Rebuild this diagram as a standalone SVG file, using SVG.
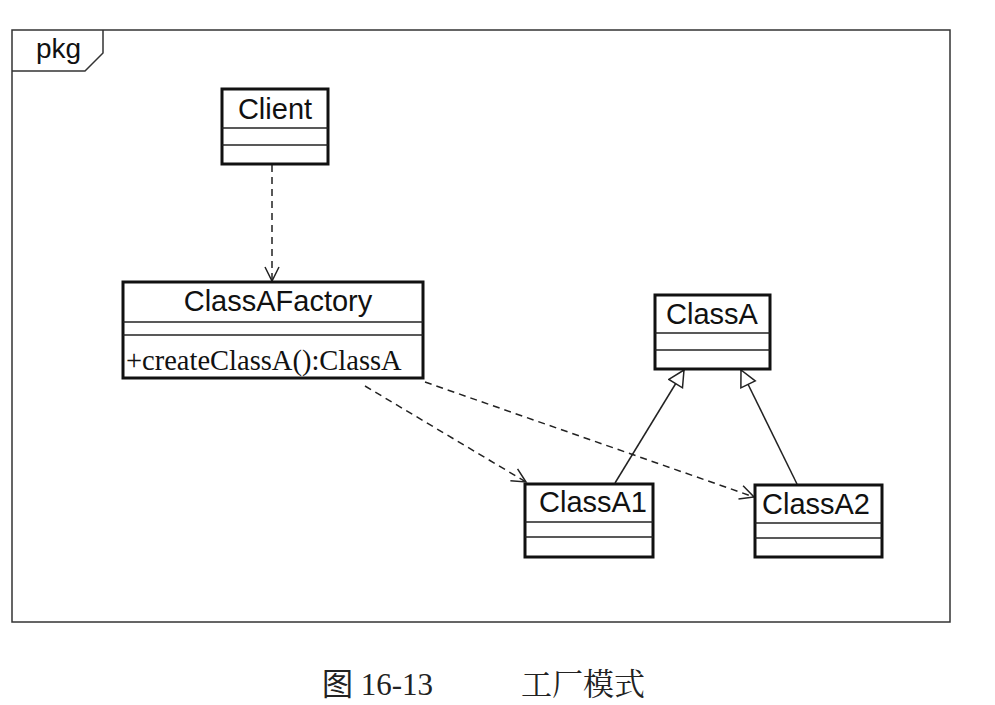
<svg xmlns="http://www.w3.org/2000/svg" width="995" height="705" viewBox="0 0 995 705">
<style>
.box{fill:#fff;stroke:#111;stroke-width:3}
.div{stroke:#222;stroke-width:1.5}
.t{font-family:"Liberation Sans",Arial,sans-serif;font-size:29px;fill:#111}
.s{font-family:"Liberation Serif","Times New Roman",serif;font-size:28.5px;fill:#111}
.dash{fill:none;stroke:#222;stroke-width:1.5;stroke-dasharray:7,5}
.solid{fill:none;stroke:#222;stroke-width:1.5}
.cap{font-family:"Liberation Serif","Noto Sans CJK SC",serif;font-size:31px;fill:#222}
.capc{font-family:"Noto Serif CJK SC","Noto Sans CJK SC",serif;font-size:31px;fill:#222}
</style>
<defs>
<marker id="open" markerWidth="20" markerHeight="20" refX="16" refY="8" orient="auto" markerUnits="userSpaceOnUse">
<path d="M2,1 L16,8 L2,15" fill="none" stroke="#222" stroke-width="1.5"/>
</marker>
<marker id="tri" markerWidth="24" markerHeight="24" refX="18" refY="9" orient="auto" markerUnits="userSpaceOnUse">
<path d="M2,1 L18,9 L2,17 Z" fill="#fff" stroke="#222" stroke-width="1.5"/>
</marker>
</defs>
<rect width="995" height="705" fill="#fff"/>
<g id="frame">
<rect x="12" y="30" width="938" height="592" fill="none" stroke="#333" stroke-width="1.5"/>
<path d="M12,71 L85,71 L103,53 L103,30" fill="none" stroke="#333" stroke-width="1.5"/>
<text x="36" y="58" class="t" style="font-size:28px">pkg</text>
</g>
<g id="connectors">
<line x1="272" y1="165" x2="272" y2="281" class="dash" marker-end="url(#open)"/>
<line x1="365" y1="386" x2="526" y2="482" class="dash" marker-end="url(#open)"/>
<line x1="425" y1="382" x2="754" y2="497" class="dash" marker-end="url(#open)"/>
<line x1="615" y1="483" x2="684" y2="370" class="solid" marker-end="url(#tri)"/>
<line x1="797" y1="484" x2="741" y2="370" class="solid" marker-end="url(#tri)"/>
</g>
<g id="Client">
<rect x="222" y="89" width="106" height="75" class="box"/>
<line x1="222" y1="128" x2="328" y2="128" class="div"/>
<line x1="222" y1="145" x2="328" y2="145" class="div"/>
<text x="275" y="119" class="t" text-anchor="middle">Client</text>
</g>
<g id="ClassAFactory">
<rect x="123" y="282" width="300" height="96" class="box"/>
<line x1="123" y1="322" x2="423" y2="322" class="div"/>
<line x1="123" y1="335" x2="423" y2="335" class="div"/>
<text x="278" y="311" class="t" text-anchor="middle">ClassAFactory</text>
<text x="126" y="370" class="s">+createClassA():ClassA</text>
</g>
<g id="ClassA">
<rect x="655" y="295" width="115" height="74" class="box"/>
<line x1="655" y1="333" x2="770" y2="333" class="div"/>
<line x1="655" y1="350" x2="770" y2="350" class="div"/>
<text x="712" y="324" class="t" text-anchor="middle">ClassA</text>
</g>
<g id="ClassA1">
<rect x="525" y="484" width="128" height="73" class="box"/>
<line x1="525" y1="522" x2="653" y2="522" class="div"/>
<line x1="525" y1="537" x2="653" y2="537" class="div"/>
<text x="593" y="512" class="t" text-anchor="middle">ClassA1</text>
</g>
<g id="ClassA2">
<rect x="755" y="485" width="127" height="72" class="box"/>
<line x1="755" y1="523" x2="882" y2="523" class="div"/>
<line x1="755" y1="538" x2="882" y2="538" class="div"/>
<text x="816" y="514" class="t" text-anchor="middle">ClassA2</text>
</g>
<g id="caption">
<text x="322" y="695" class="cap">图 16-13</text>
<text x="521" y="695" class="capc">工厂模式</text>
</g>
</svg>
